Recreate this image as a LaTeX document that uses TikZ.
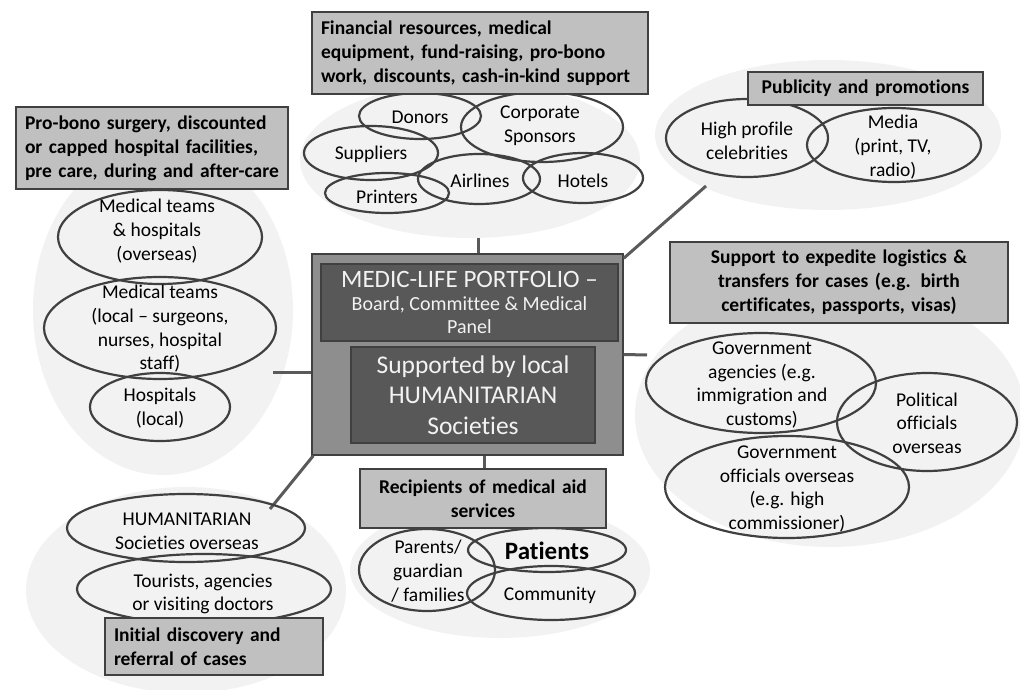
\documentclass[tikz,border=0pt]{standalone}
\usepackage{fontspec}
\setmainfont{Carlito}[Ligatures=NoCommon]
\usetikzlibrary{shapes.geometric, positioning}

\definecolor{blobgray}{HTML}{F2F2F2}
\definecolor{hdrgray}{HTML}{C0C0C0}
\definecolor{edgegray}{HTML}{404040}
\definecolor{linkgray}{HTML}{5A5A5A}
\definecolor{coregray}{HTML}{8E8E8E}
\definecolor{innergray}{HTML}{585858}

\begin{document}
\begin{tikzpicture}[
  x=1pt, y=-1pt,
  blob/.style={ellipse, fill=blobgray, draw=none, inner sep=0pt},
  oval/.style={ellipse, draw=edgegray, line width=2.2pt, inner sep=0pt},
  otext/.style={align=center, inner sep=0pt, font=\fontsize{19.5}{23.7}\selectfont},
  hdr/.style={draw=edgegray, fill=hdrgray, line width=1.3pt, inner xsep=9pt, inner ysep=0pt,
    font=\bfseries\fontsize{19.5}{24}\selectfont},
  core/.style={draw=edgegray, line width=1.4pt, inner sep=0pt, align=center, text=white!95!black},
  link/.style={draw=linkgray, line width=3pt}
]
\useasboundingbox (0,0) rectangle (1020,690);

% light background groups
\node[blob, minimum width=340pt, minimum height=156pt] (blobtop) at (470,160) {};
\node[blob, minimum width=346pt, minimum height=150pt] (blobpub) at (828,135) {};
\node[blob, minimum width=260pt, minimum height=330pt] (blobleft) at (163,310) {};
\node[blob, minimum width=390pt, minimum height=264pt] (blobright) at (830,415) {};
\node[blob, minimum width=300pt, minimum height=136pt] (blobrecip) at (500,570) {};
\node[blob, minimum width=320pt, minimum height=206pt] (blobrefer) at (186,590) {};

% central portfolio
\node[core, fill=coregray, minimum width=311pt, minimum height=201pt] (portfolio) at (467.5,354.5) {};

% connectors
\coordinate (topend) at (478,238);
\coordinate (pubend) at (706,186);
\coordinate (rightend) at (647,355);
\coordinate (leftend) at (273,372);
\coordinate (referend) at (270,509);
\coordinate (recjoin) at (484,460);
\draw[link] (portfolio.north -| topend) -- (topend);
\draw[link] ([yshift=-5pt]portfolio.north east) -- (pubend);
\draw[link] (portfolio.east) -- (rightend);
\draw[link] (leftend) -- (portfolio.west |- leftend);
\draw[link] ([xshift=2pt]portfolio.south west) -- (referend);
\draw[link] (portfolio.south -| recjoin) -- (recjoin |- 0,469);

\node[core, fill=innergray, minimum width=297pt, minimum height=77pt,
  font=\fontsize{20}{23}\selectfont] (board) at (469.5,302.5)
  {{\fontsize{25}{27}\selectfont MEDIC-LIFE PORTFOLIO --}\\[0pt]Board, Committee \& Medical\\Panel};
\node[core, fill=innergray, minimum width=244pt, minimum height=96pt,
  font=\fontsize{25.5}{30.5}\selectfont] (societies) at (473,395)
  {Supported by local\\HUMANITARIAN\\Societies};

% sponsors
\node[oval, minimum width=122pt, minimum height=46pt] (donors) at (420,116) {};
\node[oval, minimum width=162pt, minimum height=70pt] (corporate) at (542,127) {};
\node[oval, minimum width=134pt, minimum height=54pt] (suppliers) at (371,153) {};
\node[oval, minimum width=124pt, minimum height=40pt] (printers) at (387,193) {};
\node[oval, minimum width=122pt, minimum height=50pt] (airlines) at (479,179) {};
\node[oval, minimum width=120pt, minimum height=50pt] (hotels) at (583,178) {};
\node[otext] (donors-t) at (420,117) {Donors};
\node[otext] (corporate-t) at (540,126) {Corporate\\Sponsors};
\node[otext] (suppliers-t) at (371,154) {Suppliers};
\node[otext] (printers-t) at (387,197) {Printers};
\node[otext] (airlines-t) at (480,181) {Airlines};
\node[otext] (hotels-t) at (583,181) {Hotels};

% publicity
\node[oval, minimum width=162pt, minimum height=78pt] (celebs) at (747,138) {};
\node[oval, minimum width=174pt, minimum height=74pt] (media) at (894,145) {};
\node[otext] (celebs-t) at (747,141) {High profile\\celebrities};
\node[otext] (media-t) at (893,147) {Media\\(print, TV,\\radio)};

% logistics
\node[oval, minimum width=230pt, minimum height=100pt] (govagency) at (761,383) {};
\node[oval, minimum width=180pt, minimum height=98pt] (political) at (927,422) {};
\node[oval, minimum width=244pt, minimum height=102pt] (govofficial) at (787,487) {};
\node[otext] (govagency-t) at (762,385) {Government\\agencies (e.g.\\immigration and\\customs)};
\node[otext] (political-t) at (927,423) {Political\\officials\\overseas};
\node[otext] (govofficial-t) at (787,489) {Government\\officials overseas\\(e.g. high\\commissioner)};

% medical
\node[oval, minimum width=204pt, minimum height=94pt] (medoverseas) at (160,237) {};
\node[oval, minimum width=232pt, minimum height=102pt] (medlocal) at (160,328) {};
\node[oval, minimum width=140pt, minimum height=68pt] (hosplocal) at (160,407) {};
\node[otext] (medoverseas-t) at (157,231) {Medical teams\\\& hospitals\\(overseas)};
\node[otext] (medlocal-t) at (160,329) {Medical teams\\(local -- surgeons,\\nurses, hospital\\staff)};
\node[otext] (hosplocal-t) at (160,408) {Hospitals\\(local)};

% referral
\node[oval, minimum width=238pt, minimum height=68pt] (humsoc) at (186,528) {};
\node[oval, minimum width=254pt, minimum height=70pt] (tourists) at (204,589) {};
\node[otext] (humsoc-t) at (187,531) {HUMANITARIAN\\Societies overseas};
\node[otext] (tourists-t) at (203,594) {Tourists, agencies\\or visiting doctors};

% recipients
\node[oval, minimum width=136pt, minimum height=82pt] (parents) at (427,570) {};
\node[oval, minimum width=158pt, minimum height=44pt] (patients) at (547,550) {};
\node[oval, minimum width=168pt, minimum height=54pt] (community) at (551,593) {};
\node[otext] (parents-t) at (428,571) {Parents/\\guardian\\/ families};
\node[otext, font=\bfseries\fontsize{25}{28}\selectfont] (patients-t) at (547,551) {Patients};
\node[otext] (community-t) at (550,595) {Community};

% group headings
\node[hdr, text width=318pt, minimum height=82pt, align=left] (hdrfin) at (480,53)
  {Financial resources, medical\\equipment, fund-raising, pro-bono\\work, discounts, cash-in-kind support};
\node[hdr, text width=254pt, minimum height=82pt, align=left] (hdrpro) at (152,148)
  {Pro-bono surgery, discounted\\or capped hospital facilities,\\pre care, during and after-care};
\node[hdr, text width=217pt, minimum height=33pt, align=center] (hdrpub) at (865.5,88.5)
  {Publicity and promotions};
\node[hdr, text width=320pt, minimum height=81pt, align=center] (hdrsup) at (839,282.5)
  {Support to expedite logistics \&\\transfers for cases (e.g. birth\\certificates, passports, visas)};
\node[hdr, text width=228pt, minimum height=59pt, align=center] (hdrrec) at (483,498.5)
  {Recipients of medical aid\\services};
\node[hdr, text width=200pt, minimum height=57pt, align=left] (hdrinit) at (214,646.5)
  {Initial discovery and\\referral of cases};
\end{tikzpicture}
\end{document}
